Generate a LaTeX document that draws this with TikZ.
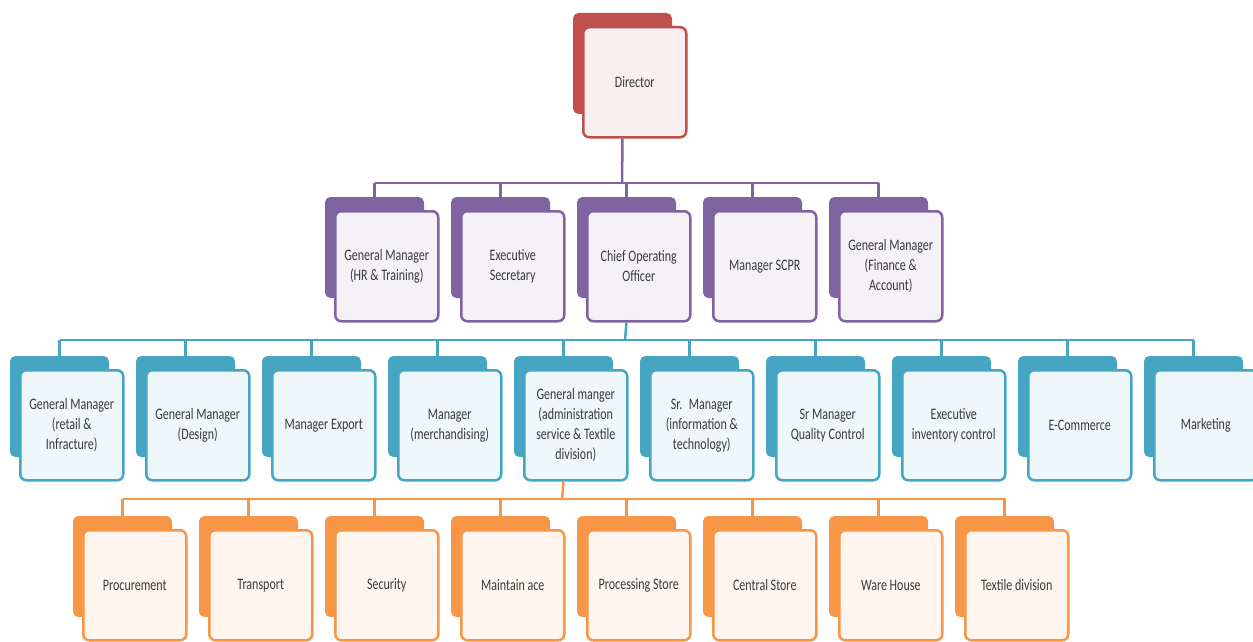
\documentclass[tikz,border=0pt]{standalone}
\usepackage{fontspec}
\setmainfont{Carlito}[FakeStretch=0.75]
\usepackage{tikz}
\usetikzlibrary{positioning}

\definecolor{dirred}{HTML}{C0504D}
\definecolor{mgrpurple}{HTML}{8064A2}
\definecolor{deptaqua}{HTML}{45A5C2}
\definecolor{unitorange}{HTML}{F79646}
\definecolor{txtgray}{HTML}{3A3A3A}

\tikzset{%
  shadowbox/.style={draw=#1,fill=#1,line width=1pt,rounded corners=5pt,minimum width=98pt,minimum height=100pt,anchor=north west,inner sep=0pt},
  cardbox/.style={draw=#1,fill=#1!9!white,line width=2.5pt,rounded corners=6pt,minimum width=103pt,minimum height=110pt,anchor=north west,inner sep=0pt,text width=98pt,align=flush center,text=txtgray,font=\fontsize{16}{20}\selectfont},
  linkline/.style={draw=#1,line width=2.5pt},
}

\begin{document}
\begin{tikzpicture}[x=1pt,y=-1pt]%
\useasboundingbox (0,0) rectangle (1253,642);%
% director
\node[shadowbox=dirred] (dirS) at (573,13) {};%
\node[cardbox=dirred] (dir) at (582,26) {Director};%
% second level
\node[shadowbox=mgrpurple] (hrS) at (325,197) {};%
\node[cardbox=mgrpurple] (hr) at (334,210) {General Manager\\(HR \& Training)};%
\node[shadowbox=mgrpurple] (secS) at (451,197) {};%
\node[cardbox=mgrpurple] (sec) at (460,210) {Executive\\Secretary};%
\node[shadowbox=mgrpurple] (cooS) at (577,197) {};%
\node[cardbox=mgrpurple] (coo) at (586,210) {Chief Operating\\Officer};%
\node[shadowbox=mgrpurple] (scprS) at (703,197) {};%
\node[cardbox=mgrpurple] (scpr) at (712,210) {Manager SCPR};%
\node[shadowbox=mgrpurple] (finS) at (829,197) {};%
\node[cardbox=mgrpurple] (fin) at (838,210) {General Manager\\(Finance \&\\Account)};%
% third level
\node[shadowbox=deptaqua] (retS) at (10,356) {};%
\node[cardbox=deptaqua] (ret) at (19,369) {General Manager\\(retail \&\\Infracture)};%
\node[shadowbox=deptaqua] (desS) at (136,356) {};%
\node[cardbox=deptaqua] (des) at (145,369) {General Manager\\(Design)};%
\node[shadowbox=deptaqua] (expS) at (262,356) {};%
\node[cardbox=deptaqua] (exp) at (271,369) {Manager Export};%
\node[shadowbox=deptaqua] (merS) at (388,356) {};%
\node[cardbox=deptaqua] (mer) at (397,369) {Manager\\(merchandising)};%
\node[shadowbox=deptaqua] (admS) at (514,356) {};%
\node[cardbox=deptaqua] (adm) at (523,369) {General manger\\(administration\\service \& Textile\\division)};%
\node[shadowbox=deptaqua] (itS) at (640,356) {};%
\node[cardbox=deptaqua] (it) at (649,369) {Sr.~ Manager\\(information \&\\technology)};%
\node[shadowbox=deptaqua] (qcS) at (766,356) {};%
\node[cardbox=deptaqua] (qc) at (775,369) {Sr Manager\\Quality Control};%
\node[shadowbox=deptaqua] (invS) at (892,356) {};%
\node[cardbox=deptaqua] (inv) at (901,369) {Executive\\inventory control};%
\node[shadowbox=deptaqua] (ecoS) at (1018,356) {};%
\node[cardbox=deptaqua] (eco) at (1027,369) {E-Commerce};%
\node[shadowbox=deptaqua] (mktS) at (1144,356) {};%
\node[cardbox=deptaqua] (mkt) at (1153,369) {Marketing};%
% fourth level
\node[shadowbox=unitorange] (proS) at (73,516) {};%
\node[cardbox=unitorange] (pro) at (82,529) {Procurement};%
\node[shadowbox=unitorange] (traS) at (199,516) {};%
\node[cardbox=unitorange] (tra) at (208,529) {Transport};%
\node[shadowbox=unitorange] (secuS) at (325,516) {};%
\node[cardbox=unitorange] (secu) at (334,529) {Security};%
\node[shadowbox=unitorange] (mntS) at (451,516) {};%
\node[cardbox=unitorange] (mnt) at (460,529) {Maintain ace};%
\node[shadowbox=unitorange] (prcS) at (577,516) {};%
\node[cardbox=unitorange] (prc) at (586,529) {Processing Store};%
\node[shadowbox=unitorange] (cenS) at (703,516) {};%
\node[cardbox=unitorange] (cen) at (712,529) {Central Store};%
\node[shadowbox=unitorange] (wreS) at (829,516) {};%
\node[cardbox=unitorange] (wre) at (838,529) {Ware House};%
\node[shadowbox=unitorange] (texS) at (955,516) {};%
\node[cardbox=unitorange] (tex) at (964,529) {Textile division};%
% busses
\coordinate (busA) at (622,183);%
\coordinate (busB) at (625,340);%
\coordinate (busC) at (562,499);%
\draw[linkline=mgrpurple] (dir.south -| dirS.south) -- (busA);%
\draw[linkline=mgrpurple] (hrS.north |- busA) -- (finS.north |- busA);%
\draw[linkline=mgrpurple] (hrS.north |- busA) -- (hrS.north);%
\draw[linkline=mgrpurple] (secS.north |- busA) -- (secS.north);%
\draw[linkline=mgrpurple] (cooS.north |- busA) -- (cooS.north);%
\draw[linkline=mgrpurple] (scprS.north |- busA) -- (scprS.north);%
\draw[linkline=mgrpurple] (finS.north |- busA) -- (finS.north);%
\draw[linkline=deptaqua] (coo.south -| cooS.south) -- (busB);%
\draw[linkline=deptaqua] (retS.north |- busB) -- (mktS.north |- busB);%
\foreach \n in {retS,desS,expS,merS,admS,itS,qcS,invS,ecoS,mktS}
  \draw[linkline=deptaqua] (\n.north |- busB) -- (\n.north);%
\draw[linkline=unitorange] (adm.south -| admS.south) -- (busC);%
\draw[linkline=unitorange] (proS.north |- busC) -- (texS.north |- busC);%
\foreach \n in {proS,traS,secuS,mntS,prcS,cenS,wreS,texS}
  \draw[linkline=unitorange] (\n.north |- busC) -- (\n.north);%
\end{tikzpicture}
\end{document}
